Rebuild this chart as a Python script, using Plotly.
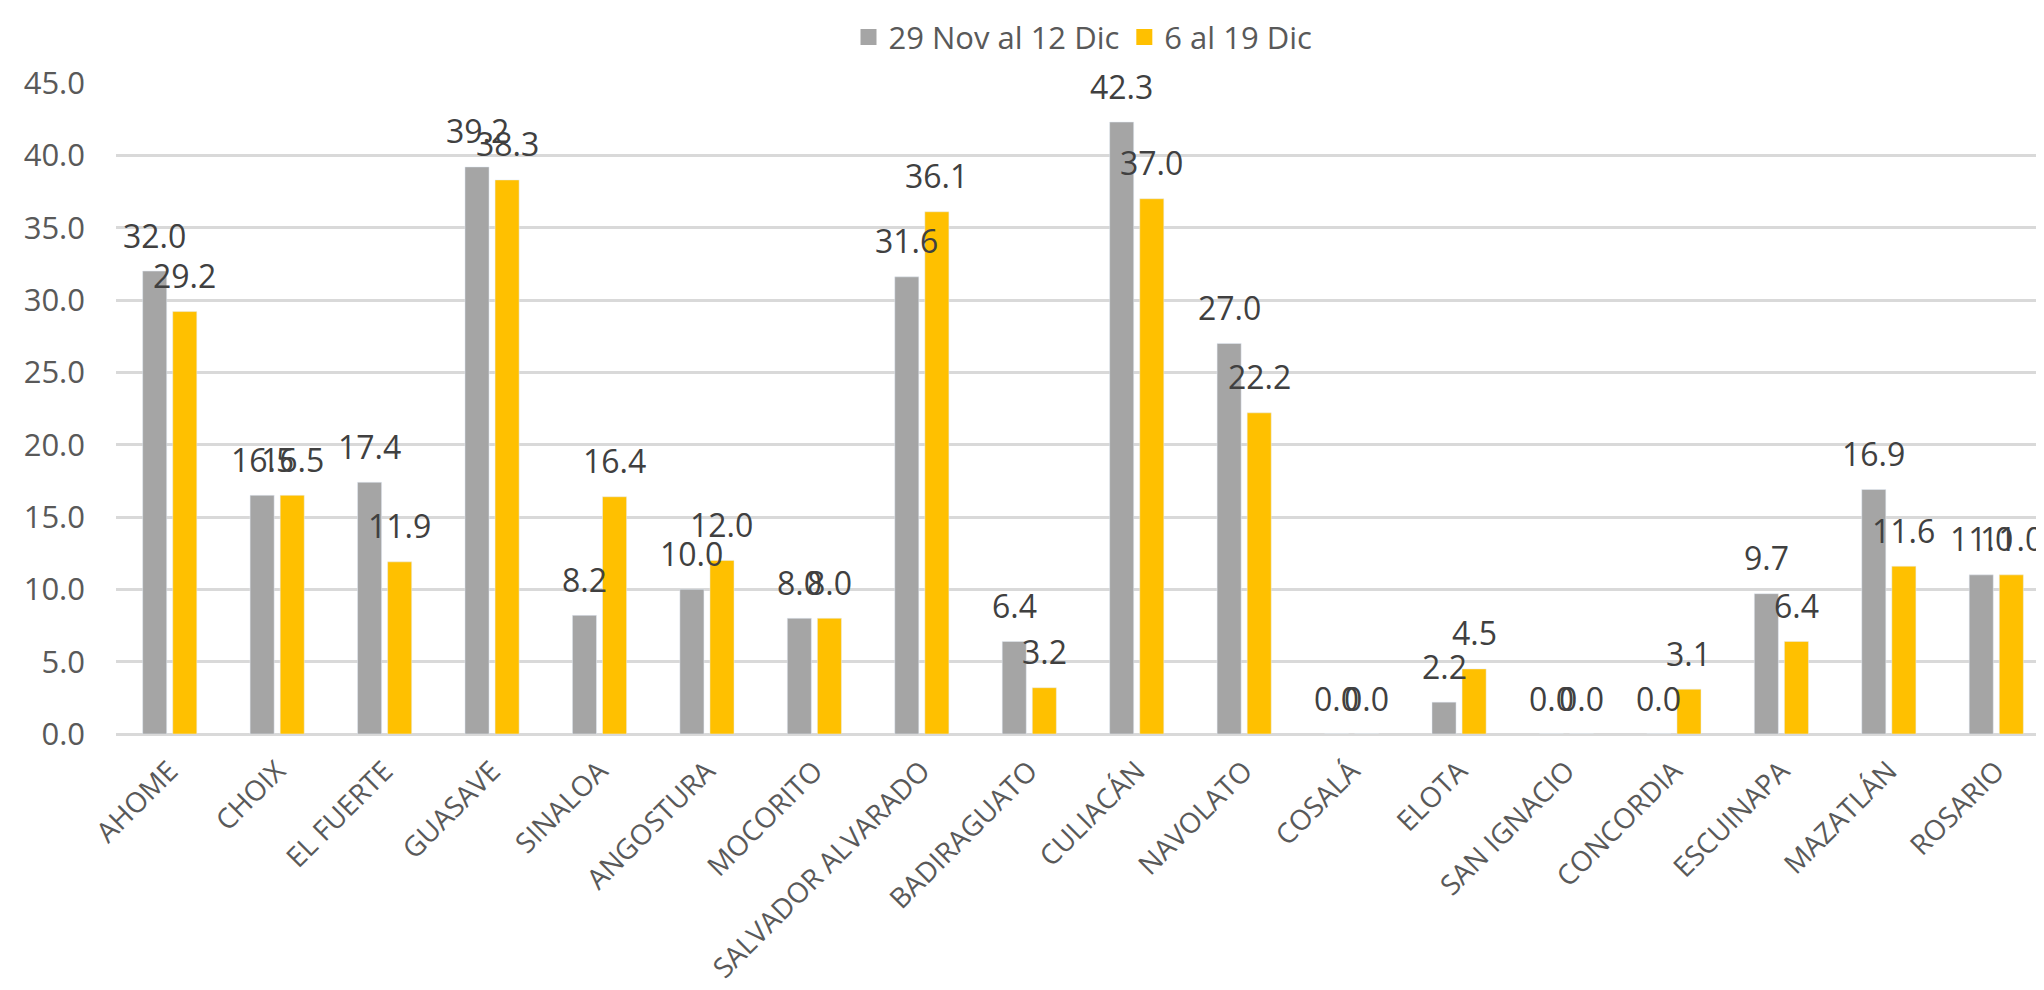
import plotly.graph_objects as go

categories = ["AHOME", "CHOIX", "EL FUERTE", "GUASAVE", "SINALOA", "ANGOSTURA", "MOCORITO",
              "SALVADOR ALVARADO", "BADIRAGUATO", "CULIACÁN", "NAVOLATO", "COSALÁ", "ELOTA",
              "SAN IGNACIO", "CONCORDIA", "ESCUINAPA", "MAZATLÁN", "ROSARIO"]
series1_name = "29 Nov al 12 Dic"
series1 = [32.0, 16.5, 17.4, 39.2, 8.2, 10.0, 8.0, 31.6, 6.4, 42.3, 27.0, 0.0, 2.2, 0.0, 0.0, 9.7, 16.9, 11.0]
series2_name = "6 al 19 Dic"
series2 = [29.2, 16.5, 11.9, 38.3, 16.4, 12.0, 8.0, 36.1, 3.2, 37.0, 22.2, 0.0, 4.5, 0.0, 3.1, 6.4, 11.6, 11.0]
y_ticks = [0, 5, 10, 15, 20, 25, 30, 35, 40, 45]

FONT = "Open Sans"
GREY = "#A5A5A5"
YELLOW = "#FFC000"

fig = go.Figure()
fig.add_trace(go.Bar(name=series1_name, x=categories, y=series1, marker_color=GREY, showlegend=False))
fig.add_trace(go.Bar(name=series2_name, x=categories, y=series2, marker_color=YELLOW, showlegend=False))
# legend entries with larger square swatches
for nm, col in ((series1_name, GREY), (series2_name, YELLOW)):
    fig.add_trace(go.Scatter(x=[None], y=[None], mode="markers", name=nm,
                             marker=dict(symbol="square", size=19, color=col)))

annotations = []
for vals, shift in ((series1, -15), (series2, 15)):
    for c, v in zip(categories, vals):
        annotations.append(dict(
            x=c, y=v, xref="x", yref="y", text=f"{v:.1f}", showarrow=False,
            xshift=shift, yshift=36, yanchor="middle", xanchor="center",
            font=dict(family=FONT, size=32, color="#404040")))

fig.update_layout(
    width=2044, height=990,
    margin=dict(l=108, r=2, t=70, b=264),
    paper_bgcolor="white", plot_bgcolor="white",
    barmode="group", bargap=0.44, bargroupgap=0.2,
    font=dict(family=FONT, size=30, color="#595959"),
    legend=dict(orientation="h", x=0.5, xanchor="center", y=1.07, yanchor="middle",
                font=dict(family=FONT, size=31, color="#595959"), itemwidth=30,
                traceorder="normal"),
    annotations=annotations,
    showlegend=True,
)
fig.update_yaxes(range=[0, 45], tickvals=y_ticks, tickformat=".1f",
                 showgrid=True, gridcolor="#D9D9D9", gridwidth=2.5,
                 zeroline=True, zerolinecolor="#D9D9D9", zerolinewidth=2.5,
                 showline=False, ticks="", ticklabelstandoff=30,
                 tickfont=dict(family=FONT, size=31, color="#595959"))
fig.update_xaxes(tickangle=-45, showgrid=False, showline=False, ticks="",
                 ticklabelstandoff=14,
                 tickfont=dict(family=FONT, size=28, color="#595959"))

fig.write_html("out.html")
